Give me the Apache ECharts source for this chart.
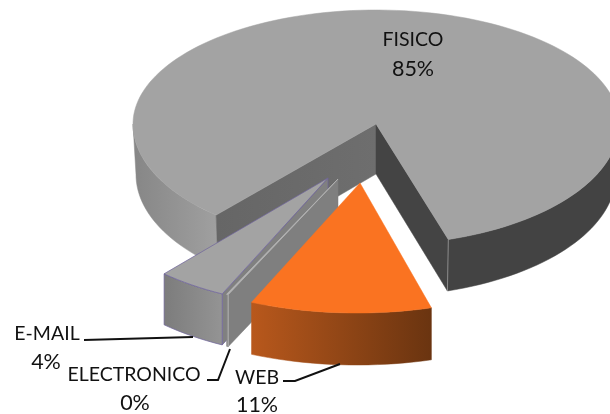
<!DOCTYPE html>
<html><head><meta charset="utf-8">
<style>html,body{margin:0;padding:0;background:#fff}#c{width:610px;height:414px}</style>
<script src="https://cdn.jsdelivr.net/npm/echarts@6/dist/echarts.min.js"></script>
</head><body><div id="c"></div>
<script>
// Data (clockwise from the start angle)
const categories = ['FISICO', 'WEB', 'ELECTRONICO', 'E-MAIL'];
const values = [84.6, 11, 0.1, 4.3];
const percentLabels = ['85%', '11%', '0%', '4%'];

// Presentation (not data)
const startAngle = 219.2;        // clockwise from the top of the ellipse
const drawOrder = [0, 3, 2, 1];  // back to front
const layout = {
  'FISICO':      {ax:376, ay:124, cx:376, cy:124, rx:243, ry:121, ryTop:114, warp:2, h:50,
                  bottom:{cx:376, cy:174.5, rx:240, ry:122}, text:[413,40,413,69], leader:null},
  'WEB':         {ax:360, ay:183, cx:357, cy:183, rx:266, ry:130, h:52, text:[257,378,257,405], leader:[[283,381],[295,381],[340,364]]},
  'ELECTRONICO': {ax:338, ay:179, cx:338, cy:179, rx:277, ry:126, h:52, text:[134,375,135,403], leader:[[207,380],[218,380],[230,349]]},
  'E-MAIL':      {ax:328, ay:178, cx:324, cy:163, rx:253, ry:143, h:51, text:[47,334,46,362], leader:[[84,340],[193,337]]}
};
const total = values.reduce((a, b) => a + b, 0);
const LG = (c0, c1) => new echarts.graphic.LinearGradient(0, 0, 1, 0, [{offset:0,color:c0},{offset:1,color:c1}]);
const rad = d => d * Math.PI / 180;

function pt(l, deg) {
  const t = deg + (l.warp ? l.warp * Math.sin(rad(2 * deg)) : 0);
  const s = Math.sin(rad(t)), c = Math.cos(rad(t));
  const ry = c > 0 && l.ryTop ? l.ryTop : l.ry;
  return [l.cx + l.rx * s, l.cy - ry * c];
}
function ptLow(l, deg) {
  if (l.bottom) {
    const t = deg + (l.warp ? l.warp * Math.sin(rad(2 * deg)) : 0);
    return [l.bottom.cx + l.bottom.rx * Math.sin(rad(t)), l.bottom.cy - l.bottom.ry * Math.cos(rad(t))];
  }
  const p = pt(l, deg);
  return [p[0], p[1] + l.h];
}
function arc(fn, l, a0, a1) {
  const n = Math.max(2, Math.ceil(Math.abs(a1 - a0) / 2)), out = [];
  for (let i = 0; i <= n; i++) out.push(fn(l, a0 + (a1 - a0) * i / n));
  return out;
}
function poly(points, fill, stroke, lw) {
  return {type:'polygon', shape:{points}, style:{fill, stroke: stroke || fill, lineWidth: lw === undefined ? 0.5 : lw}};
}
function wall(l, a0, a1, fill, stroke, lw) {
  return poly(arc(pt, l, a0, a1).concat(arc(ptLow, l, a1, a0)), fill, stroke, lw);
}
function cutFace(l, deg, fill, stroke, lw) {
  return poly([[l.ax, l.ay], pt(l, deg), ptLow(l, deg), [l.ax, l.ay + l.h]], fill, stroke, lw);
}
function topFace(l, a0, a1, fill, stroke, lw) {
  return poly([[l.ax, l.ay]].concat(arc(pt, l, a0, a1)), fill, stroke, lw);
}
function edge(l, deg, color, lw) {
  const p = pt(l, deg), q = ptLow(l, deg);
  return {type:'line', shape:{x1:p[0], y1:p[1], x2:q[0], y2:q[1]}, style:{stroke:color, lineWidth:lw}};
}
function sliceLabels(i, l) {
  const t = l.text, out = [];
  [[categories[i], t[0], t[1], '19.5px'], [percentLabels[i], t[2], t[3], '21.5px']].forEach(r => out.push({
    type:'text', x:r[1], y:r[2],
    style:{text:r[0], font:r[3] + ' Lato, "Open Sans", sans-serif', fill:'#111111', align:'center', verticalAlign:'middle'}
  }));
  if (l.leader) out.push({type:'polyline', shape:{points:l.leader}, style:{stroke:'#111', lineWidth:2, fill:null}});
  return out;
}
const angles = {};
let running = startAngle;
categories.forEach((c, i) => {
  const sweep = values[i] / total * 360;
  angles[c] = [running, running + sweep];
  running += sweep;
});
function renderItem(params, api) {
  const i = api.value(0), name = categories[i], l = layout[name];
  const a0 = angles[name][0], a1 = angles[name][1];
  let ch = [];
  if (name === 'FISICO') {
    const end = a1 - 360;
    ch.push(wall(l, a0, 270, LG('#868686', '#a0a0a0')));
    ch.push(wall(l, 90, end, '#434343'));
    ch.push(cutFace(l, a0, LG('#666666', '#6e6e6e')));
    ch.push(cutFace(l, end, '#444444'));
    ch.push(edge(l, end, '#8a8a8a', 1));
    ch.push(topFace(l, a0, a1, '#a3a3a3'));
  } else if (name === 'WEB') {
    ch.push(wall(l, a0, a1, LG('#b8581c', '#6a3410')));
    ch.push(topFace(l, a0, a1, '#fa7321'));
  } else if (name === 'E-MAIL') {
    const v = '#6f639c';
    ch.push(cutFace(l, a0, '#808080', v, 0.7));
    ch.push(wall(l, a0, a1, LG('#7c7c7c', '#949494'), v, 0.7));
    ch.push(topFace(l, a0, a1, '#a3a3a3', v, 0.7));
  } else {
    ch.push(cutFace(l, a0, '#7f7f7f', '#7f7f7f'));
    ch.push(wall(l, a0, a1, '#858585', '#858585'));
    ch.push(topFace(l, a0, a1, '#b4b4b4', '#b4b4b4', 0.8));
    ch.push(edge(l, a0, '#b4b4b4', 1));
  }
  ch = ch.concat(sliceLabels(i, l));
  return {type:'group', children: ch};
}
const chart = echarts.init(document.getElementById('c'), null, {renderer:'canvas'});
chart.setOption({
  animation:false,
  backgroundColor:'#ffffff',
  series:[{
    type:'custom',
    coordinateSystem:'none',
    silent:true,
    renderItem,
    clip:false,
    data: drawOrder.map(i => [i, values[i]])
  }]
});
</script></body></html>
